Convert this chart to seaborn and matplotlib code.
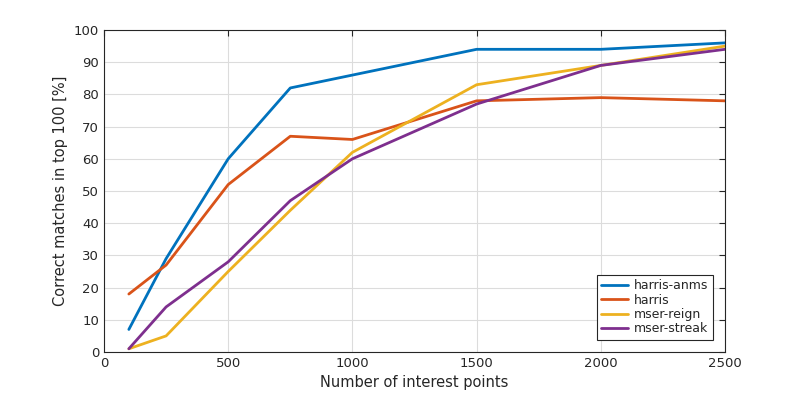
import numpy as np
import pandas as pd
import seaborn as sns
import matplotlib
matplotlib.use('Agg')
import matplotlib.pyplot as plt

# puntos de interes
n_points = [100, 250, 500, 750, 1000, 1500, 2000, 2500]
harris_anms = [7, 29, 60, 82, 86, 94, 94, 96]
harris = [18, 27, 52, 67, 66, 78, 79, 78]
mser_reign = [1, 5, 25, 44, 62, 83, 89, 95]
mser_streak = [1, 14, 28, 47, 60, 77, 89, 94]

series = {'harris-anms': harris_anms, 'harris': harris,
          'mser-reign': mser_reign, 'mser-streak': mser_streak}
colores = ['#0072BD', '#D95319', '#EDB120', '#7E2F8E']

df = pd.concat([pd.DataFrame({'x': n_points, 'y': v, 'metodo': k})
                for k, v in series.items()], ignore_index=True)

sns.set_style('white')
plt.rcParams['font.family'] = ['DejaVu Sans']

fig = plt.figure(figsize=(8.02, 3.95), dpi=100)
ax = fig.add_axes([104/802, 1-352/395, (725-104)/802, (352-30)/395])

sns.lineplot(data=df, x='x', y='y', hue='metodo', palette=colores,
             linewidth=2, ax=ax)

ax.set_xlim(0, 2500)
ax.set_ylim(0, 100)
ax.set_xticks(np.arange(0, 2501, 500))
ax.set_yticks(np.arange(0, 101, 10))
ax.grid(True, color='#dcdcdc', linewidth=0.8)
ax.tick_params(direction='in', top=True, right=True, labelsize=9.5,
               length=4, color='#262626', labelcolor='#262626')
for s in ax.spines.values():
    s.set_color('#262626')
    s.set_linewidth(0.8)
ax.set_xlabel('Number of interest points', fontsize=10.5, color='#262626')
ax.set_ylabel('Correct matches in top 100 [%]', fontsize=10.5, color='#262626')

leg = ax.legend(loc='lower right', fontsize=9, fancybox=False, framealpha=1,
                edgecolor='#262626', handlelength=2.1, handletextpad=0.5,
                borderaxespad=1.0, labelspacing=0.1, borderpad=0.35)
leg.get_frame().set_linewidth(0.8)

fig.savefig('out.png', dpi=100)
